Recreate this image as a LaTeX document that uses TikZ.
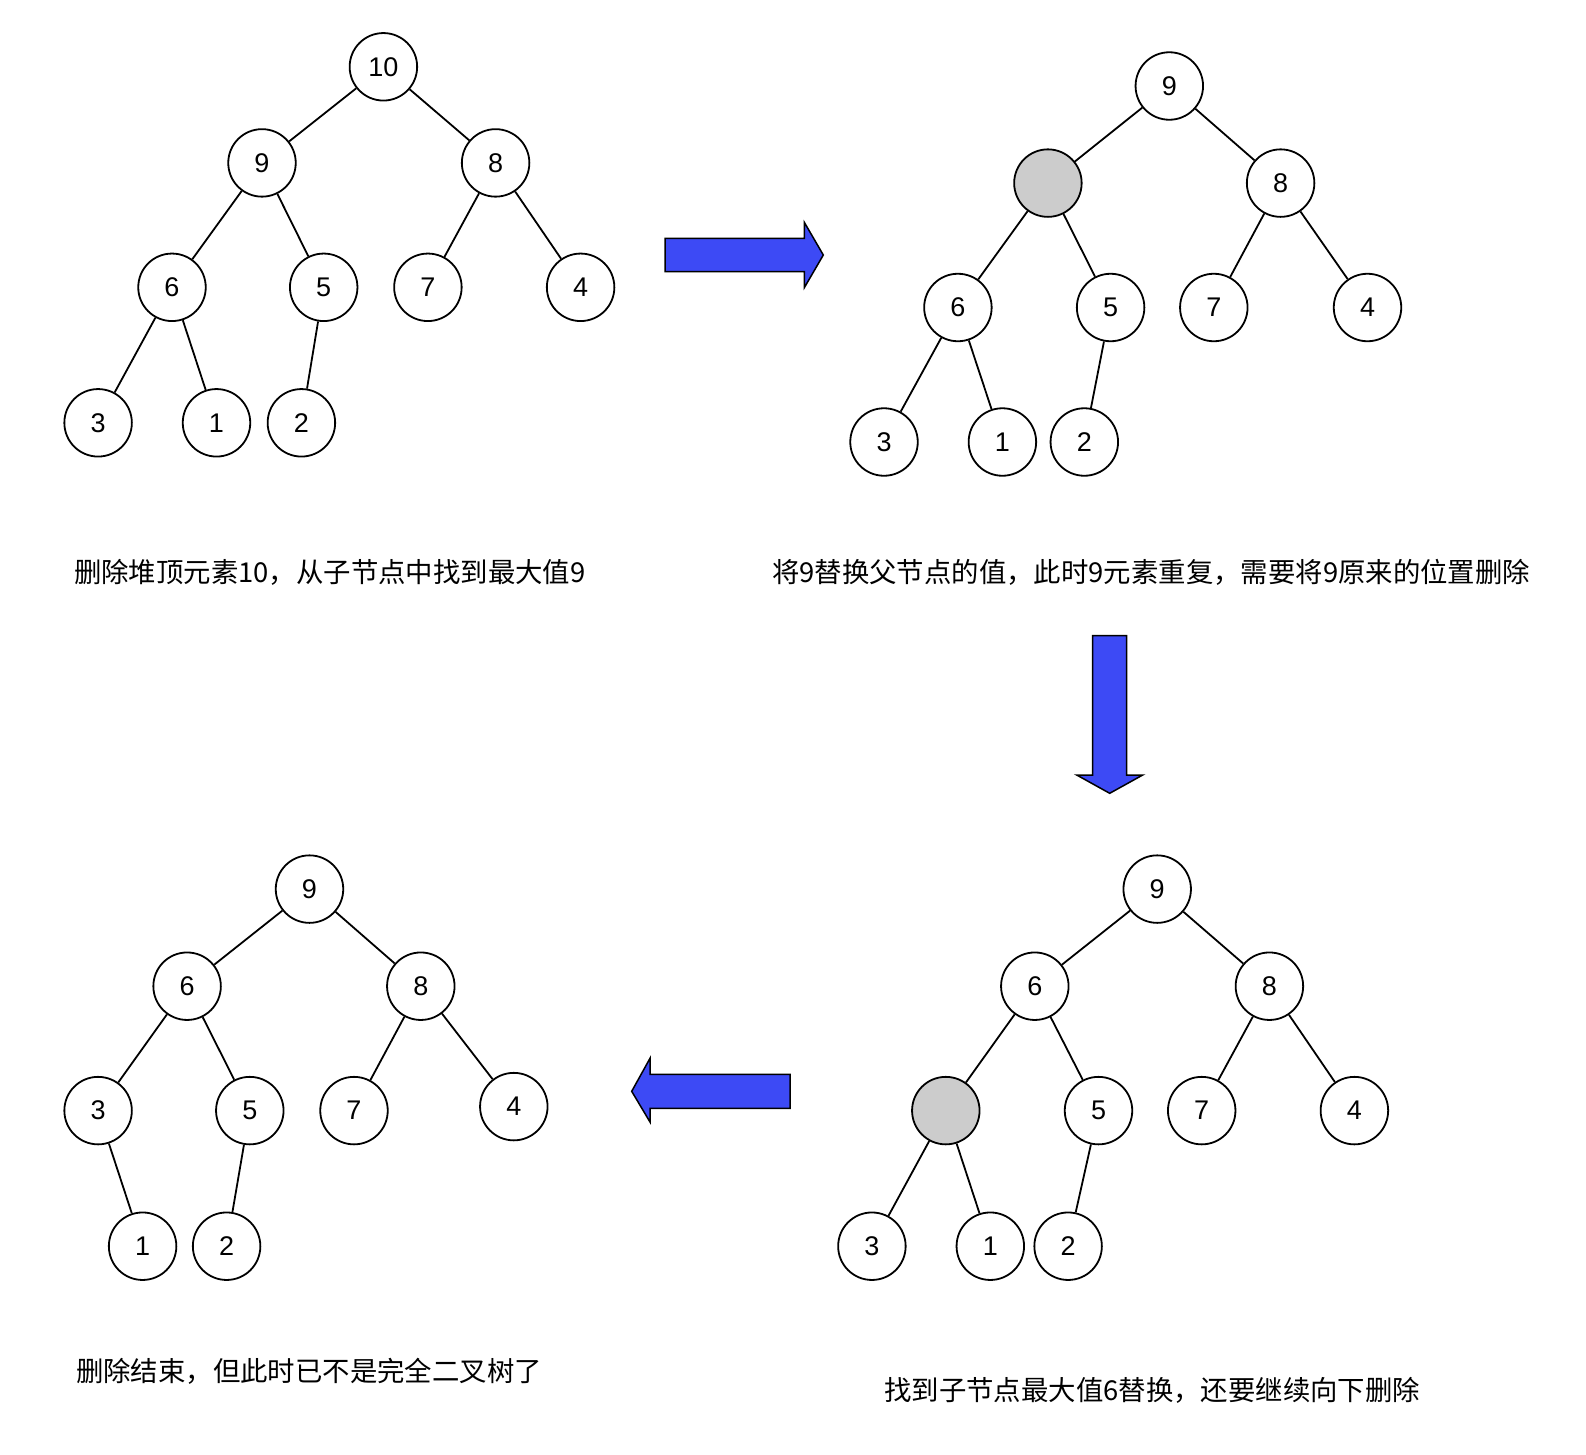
\documentclass[tikz,border=0pt]{standalone}
\usepackage{fontspec}
\setmainfont{Liberation Sans}
\newfontfamily\cjk{Noto Sans CJK SC}
\definecolor{arrowblue}{RGB}{61,74,245}
\begin{document}
\begin{tikzpicture}[x=1pt,y=-1pt,
  hn/.style={circle,draw,line width=1.8pt,minimum size=67.5pt,inner sep=0pt,fill=white,font=\fontsize{27}{30}\selectfont},
  gn/.style={hn,fill=gray!40},
  ed/.style={line width=1.8pt},
  bigarrow/.style={draw=black,line width=1.5pt,fill=arrowblue,line join=miter},
  lbl/.style={anchor=west,inner sep=0pt,font=\cjk\fontsize{27.4}{32}\selectfont}]
\useasboundingbox (0,0) rectangle (1586,1454);

% Tree 1
\node[hn] (a10) at (383.4,66.8) {10};
\node[hn] (a9) at (262,162.9) {9};
\node[hn] (a8) at (495.6,162.9) {8};
\node[hn] (a6) at (172,287.3) {6};
\node[hn] (a5) at (323.7,287.3) {5};
\node[hn] (a7) at (427.9,287.3) {7};
\node[hn] (a4) at (580.6,287.3) {4};
\node[hn] (a3) at (98.1,422.8) {3};
\node[hn] (a1) at (216.5,422.8) {1};
\node[hn] (a2) at (301.4,422.8) {2};
\draw[ed] (a10) -- (a9);
\draw[ed] (a10) -- (a8);
\draw[ed] (a9) -- (a6);
\draw[ed] (a9) -- (a5);
\draw[ed] (a8) -- (a7);
\draw[ed] (a8) -- (a4);
\draw[ed] (a6) -- (a3);
\draw[ed] (a6) -- (a1);
\draw[ed] (a5) -- (a2);

% Tree 2
\node[hn] (b9) at (1169.3,86) {9};
\node[gn] (bg) at (1047.9,183.1) {};
\node[hn] (b8) at (1280.6,183.1) {8};
\node[hn] (b6) at (957.9,307.5) {6};
\node[hn] (b5) at (1110.6,307.5) {5};
\node[hn] (b7) at (1213.8,307.5) {7};
\node[hn] (b4) at (1367.5,307.5) {4};
\node[hn] (b3) at (884,442) {3};
\node[hn] (b1) at (1002.4,442) {1};
\node[hn] (b2) at (1084.3,442) {2};
\draw[ed] (b9) -- (bg);
\draw[ed] (b9) -- (b8);
\draw[ed] (bg) -- (b6);
\draw[ed] (bg) -- (b5);
\draw[ed] (b8) -- (b7);
\draw[ed] (b8) -- (b4);
\draw[ed] (b6) -- (b3);
\draw[ed] (b6) -- (b1);
\draw[ed] (b5) -- (b2);

% Tree 3 (bottom right)
\node[hn] (c9) at (1157.2,889.1) {9};
\node[hn] (c6) at (1034.8,986.2) {6};
\node[hn] (c8) at (1269.4,986.2) {8};
\node[gn] (cg) at (945.8,1110.6) {};
\node[hn] (c5) at (1098.5,1110.6) {5};
\node[hn] (c7) at (1201.7,1110.6) {7};
\node[hn] (c4) at (1354.4,1110.6) {4};
\node[hn] (c3) at (871.9,1246.2) {3};
\node[hn] (c1) at (990.3,1246.2) {1};
\node[hn] (c2) at (1068.1,1246.2) {2};
\draw[ed] (c9) -- (c6);
\draw[ed] (c9) -- (c8);
\draw[ed] (c6) -- (cg);
\draw[ed] (c6) -- (c5);
\draw[ed] (c8) -- (c7);
\draw[ed] (c8) -- (c4);
\draw[ed] (cg) -- (c3);
\draw[ed] (cg) -- (c1);
\draw[ed] (c5) -- (c2);

% Tree 4 (bottom left)
\node[hn] (d9) at (309.5,889.1) {9};
\node[hn] (d6) at (187.1,986.2) {6};
\node[hn] (d8) at (420.8,986.2) {8};
\node[hn] (d3) at (98.1,1110.6) {3};
\node[hn] (d5) at (249.8,1110.6) {5};
\node[hn] (d7) at (354,1110.6) {7};
\node[hn] (d4) at (513.8,1106.6) {4};
\node[hn] (d1) at (142.6,1246.2) {1};
\node[hn] (d2) at (226.6,1246.2) {2};
\draw[ed] (d9) -- (d6);
\draw[ed] (d9) -- (d8);
\draw[ed] (d6) -- (d3);
\draw[ed] (d6) -- (d5);
\draw[ed] (d8) -- (d7);
\draw[ed] (d8) -- (d4);
\draw[ed] (d3) -- (d1);
\draw[ed] (d5) -- (d2);

% Block arrows
\draw[bigarrow] (665,238.3) -- (804.3,238.3) -- (804.3,222.3) -- (823.3,255) -- (804.3,287.7) -- (804.3,271.7) -- (665,271.7) -- cycle;
\draw[bigarrow] (1092.7,635.7) -- (1126.7,635.7) -- (1126.7,775) -- (1142.7,775) -- (1109.7,793.3) -- (1076.7,775) -- (1092.7,775) -- cycle;
\draw[bigarrow] (790,1074.3) -- (650,1074.3) -- (650,1058.3) -- (631.7,1091.3) -- (650,1122) -- (650,1108.3) -- (790,1108.3) -- cycle;

% Captions
\node[lbl] (t1) at (73.8,572.5) {删除堆顶元素10，从子节点中找到最大值9};
\node[lbl] (t2) at (771.8,572.5) {将9替换父节点的值，此时9元素重复，需要将9原来的位置删除};
\node[lbl] (t3) at (75.9,1371.6) {删除结束，但此时已不是完全二叉树了};
\node[lbl] (t4) at (884,1390.8) {找到子节点最大值6替换，还要继续向下删除};
\end{tikzpicture}
\end{document}
